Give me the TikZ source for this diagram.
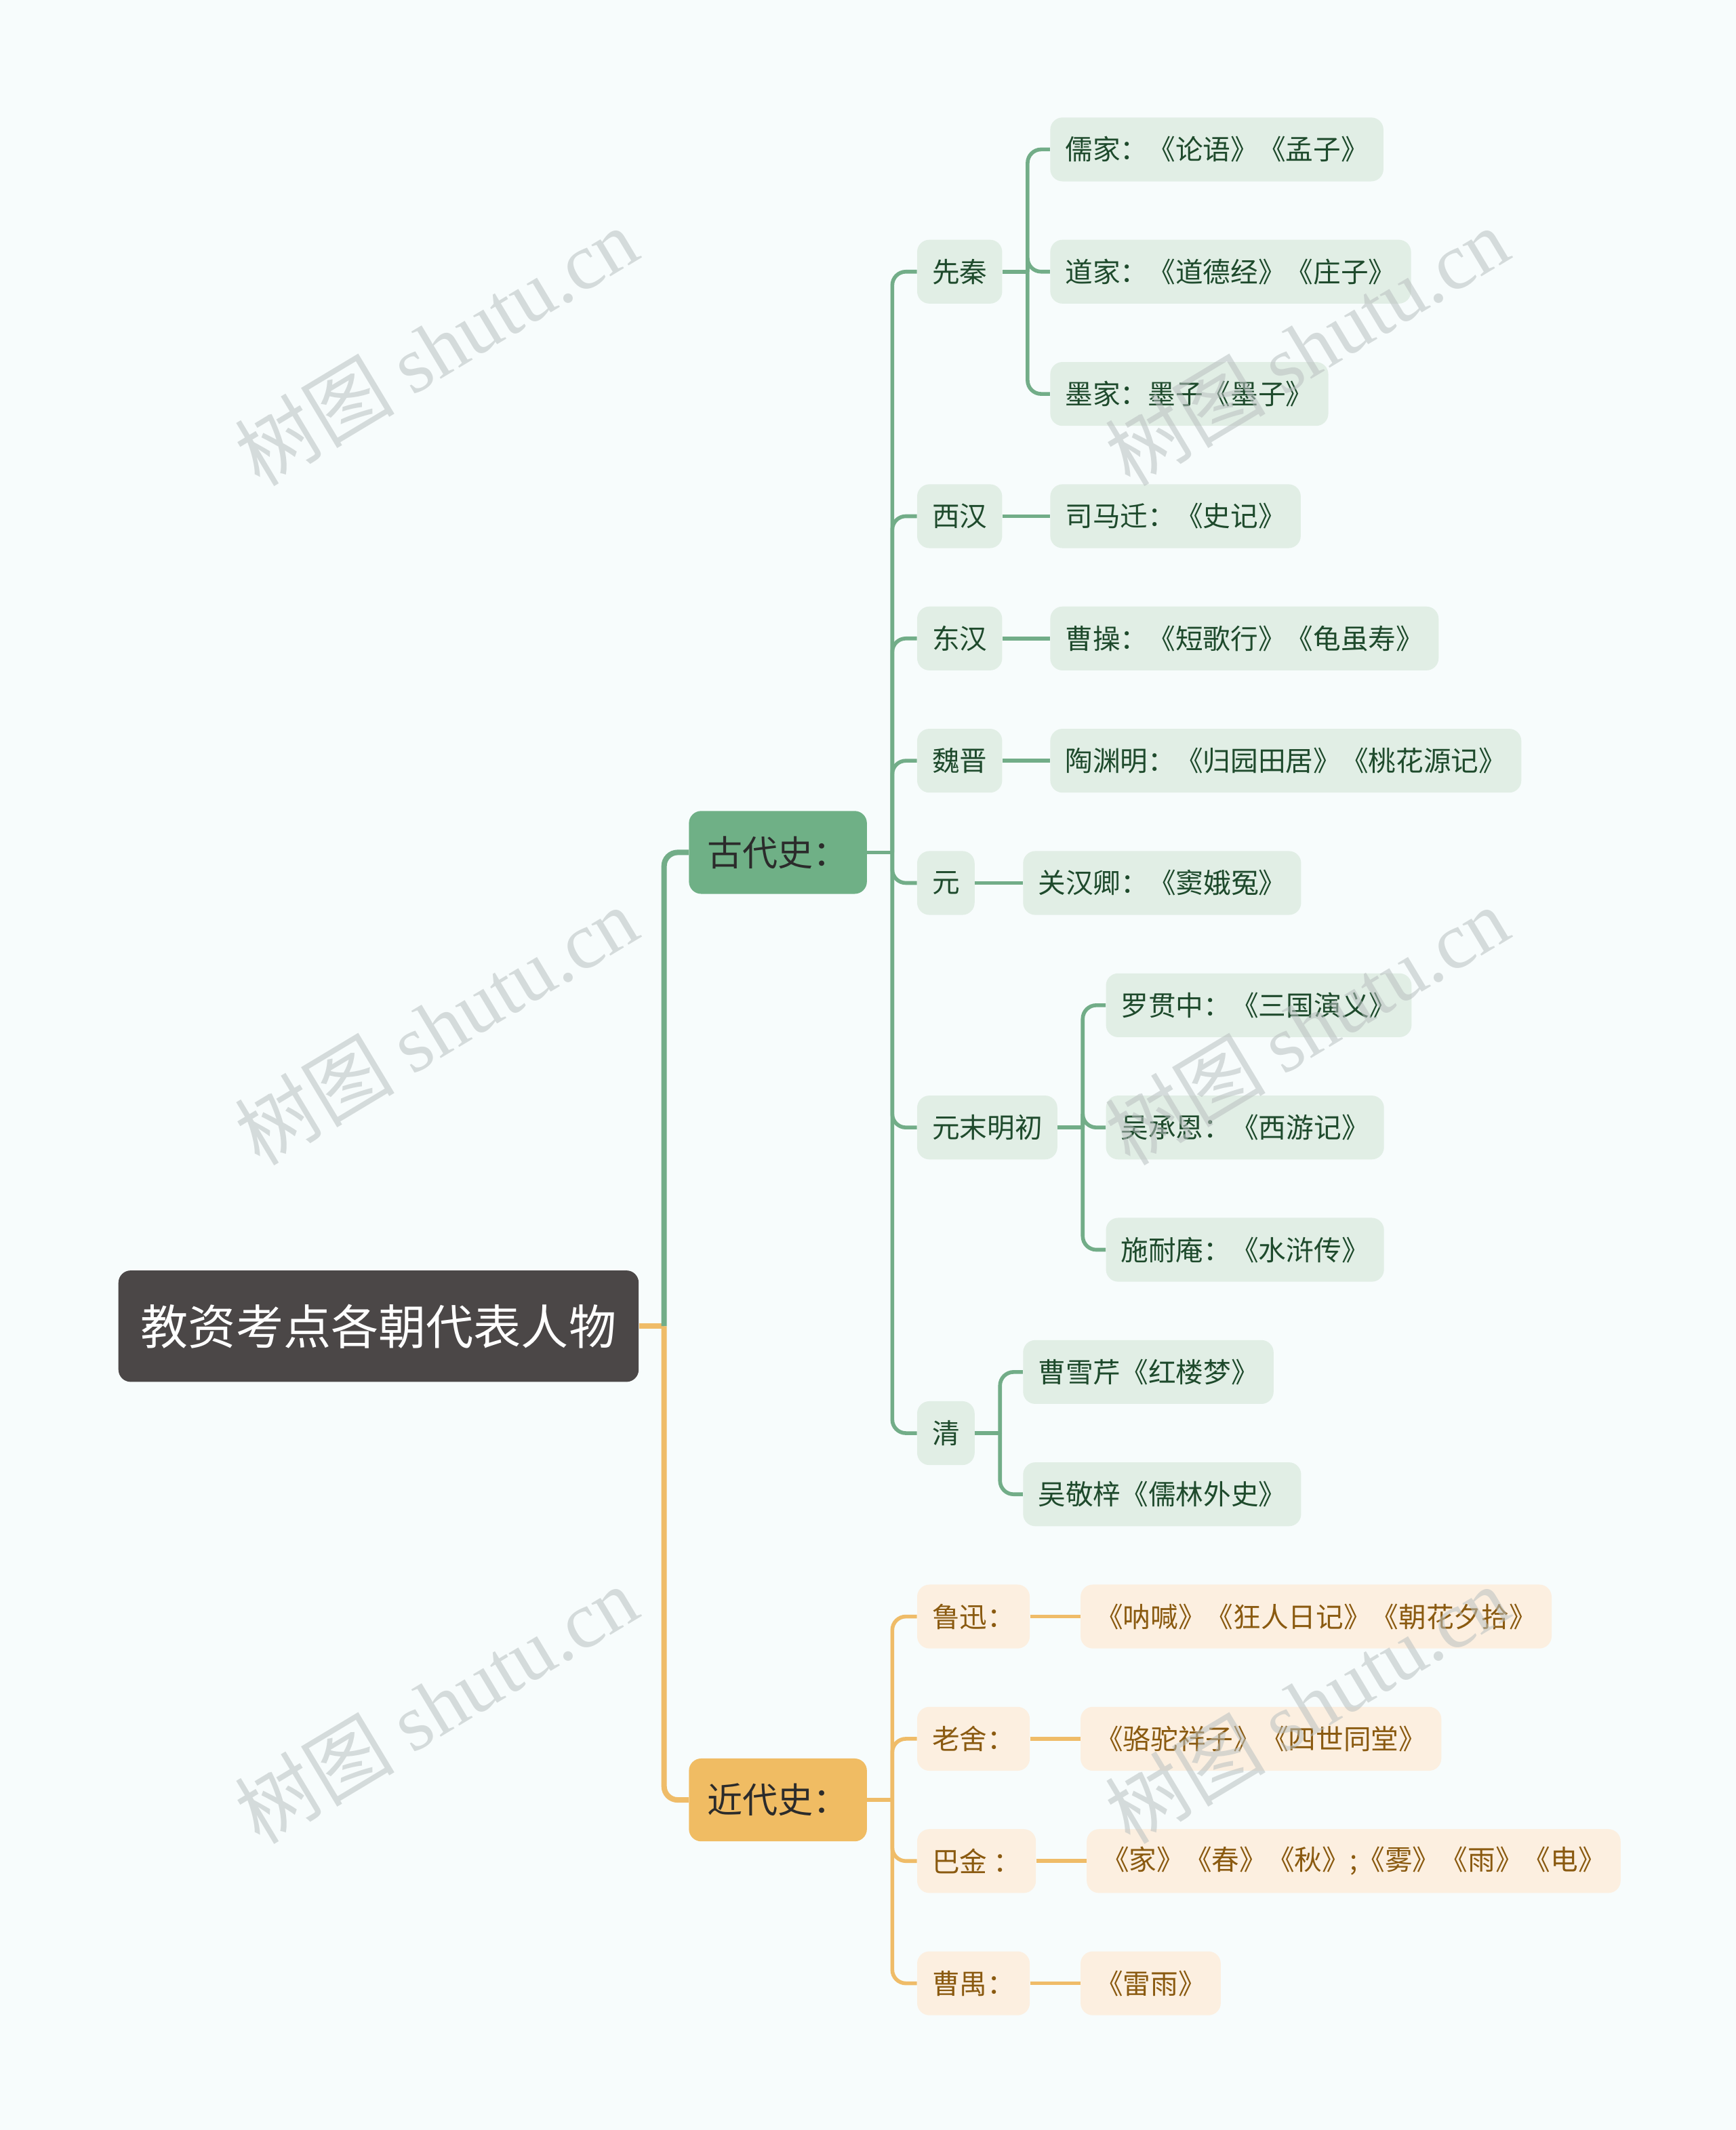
\documentclass[tikz,border=0pt]{standalone}
\usepackage{fontspec}
\setmainfont{Noto Sans CJK SC}
\newfontfamily\wmlatin{Liberation Serif}
\usetikzlibrary{positioning,calc}
\definecolor{paper}{HTML}{F7FCFC}
\definecolor{rootgray}{HTML}{4B4747}
\definecolor{gdgreen}{HTML}{6FB086}
\definecolor{gdline}{HTML}{72AD88}
\definecolor{gdlight}{HTML}{E1EEE5}
\definecolor{gdtext}{HTML}{1E4A2C}
\definecolor{jdorange}{HTML}{F0BC63}
\definecolor{jdline}{HTML}{EFBC68}
\definecolor{jdlight}{HTML}{FCEFE0}
\definecolor{jdtext}{HTML}{8A5A10}
\definecolor{wmgray}{HTML}{B9C0C0}

\tikzset{
  box/.style={anchor=west, rounded corners=9pt, inner xsep=11pt, inner ysep=0pt,
    minimum height=47pt, font=\fontsize{20.3}{20.3}\selectfont},
  rootbox/.style={box, fill=rootgray, text=white, inner xsep=16.5pt,
    minimum height=82pt, font=\fontsize{35}{35}\selectfont},
  topbox/.style={box, inner xsep=13.5pt, minimum height=61pt, text=black!83,
    font=\fontsize{26}{26}\selectfont},
  gdbox/.style={box, fill=gdlight, text=gdtext},
  jdbox/.style={box, fill=jdlight, text=jdtext},
  glink/.style={draw=gdline, line width=2.8pt},
  jlink/.style={draw=jdline, line width=2.8pt},
  watermark/.style={rotate=31, text=wmgray, opacity=.55,
    font=\fontsize{59}{59}\selectfont},
}

\begin{document}
\begin{tikzpicture}[x=1pt, y=-90pt]
  \fill[paper] (0,-1.2222) rectangle (1278,16.2);
  \useasboundingbox (0,-1.2222) rectangle (1278,16.2);

  \node[rootbox] (root) at (87,9.625) {教资考点各朝代表人物};
  \node[topbox, fill=gdgreen] (gd) at (507,5.75) {古代史：};
  \node[topbox, fill=jdorange] (jd) at (507,13.5) {近代史：};

  % dynasties
  \foreach \n/\r/\t in {xq/1/先秦, xh/3/西汉, dh/4/东汉, wj/5/魏晋, yuan/6/元,
      ymmc/8/元末明初, qing/10.5/清}
    \node[gdbox] (\n) at (675,\r) {\t};
  \foreach \n/\x/\r/\t in {rj/773/0/儒家：《论语》《孟子》, dj/773/1/道家：《道德经》《庄子》,
      mj/773/2/墨家：墨子《墨子》, smq/773/3/司马迁：《史记》,
      cc/773/4/曹操：《短歌行》《龟虽寿》, tym/773/5/陶渊明：《归园田居》《桃花源记》,
      ghq/753/6/关汉卿：《窦娥冤》, lgz/814/7/罗贯中：《三国演义》,
      wce/814/8/吴承恩：《西游记》, sna/814/9/施耐庵：《水浒传》,
      cxq/753/10/曹雪芹《红楼梦》, wjz/753/11/吴敬梓《儒林外史》}
    \node[gdbox] (\n) at (\x,\r) {\t};

  % modern writers
  \foreach \n/\r/\t in {lx/12/鲁迅：, ls/13/老舍：, bj/14/巴金 ：, cy/15/曹禺：}
    \node[jdbox] (\n) at (675,\r) {\t};
  \foreach \n/\p/\t in {lxw/lx/《呐喊》\hspace{0pt}《狂人日记》\hspace{0pt}《朝花夕拾》,
      lsw/ls/《骆驼祥子》《四世同堂》,
      bjw/bj/《家》《春》《秋》;《雾》《雨》《电》, cyw/cy/《雷雨》}
    \node[jdbox, right=37pt of \p] (\n) {\t};

  % links
  \coordinate (t0) at ([xshift=18.5pt]root.east);
  \draw[jlink, line width=4pt] (root.east) -- (t0);
  \draw[glink, line width=4pt, rounded corners=10pt] (t0) |- (gd.west);
  \draw[jlink, line width=4pt, rounded corners=10pt] (t0) |- (jd.west);

  \foreach \p/\cs in {gd/{xq,xh,dh,wj,yuan,ymmc,qing}, xq/{rj,dj,mj},
      ymmc/{lgz,wce,sna}, qing/{cxq,wjz}} {
    \draw[glink] (\p.east) -- ++(18.5,0) coordinate (t);
    \foreach \c in \cs
      \draw[glink, rounded corners=10pt] (t) |- (\c.west);
  }
  \foreach \p/\c in {xh/smq, dh/cc, wj/tym, yuan/ghq}
    \draw[glink] (\p.east) -- (\c.west);

  \draw[jlink] (jd.east) -- ++(18.5,0) coordinate (t1);
  \foreach \c in {lx,ls,bj,cy}
    \draw[jlink, rounded corners=10pt] (t1) |- (\c.west);
  \foreach \p/\c in {lx/lxw, ls/lsw, bj/bjw, cy/cyw}
    \draw[jlink] (\p.east) -- (\c.west);

  % watermarks
  \foreach \x in {321,962} \foreach \r in {1.611,7.167,12.72}
    \node[watermark] (wm) at (\x,\r) {树图 {\wmlatin shutu.cn}};
\end{tikzpicture}
\end{document}
